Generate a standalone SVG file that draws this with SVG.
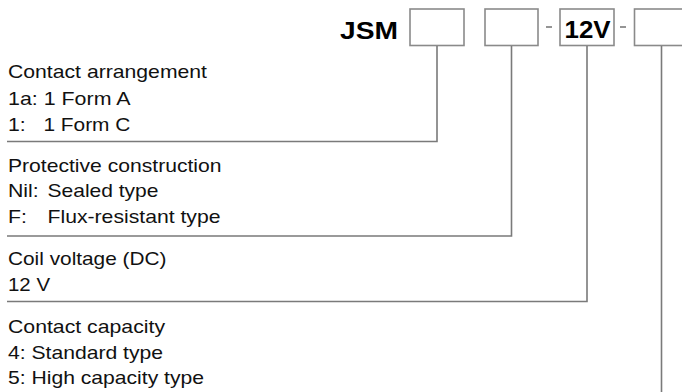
<svg xmlns="http://www.w3.org/2000/svg" width="682" height="392" viewBox="0 0 682 392">
<style>
.t{font-family:"Liberation Sans",Arial,Helvetica,sans-serif;font-size:18.5px;fill:#111}
.b{font-family:"Liberation Sans",Arial,Helvetica,sans-serif;font-size:24px;font-weight:bold;fill:#000}
.box{fill:#fff;stroke:#8a8a8a;stroke-width:1.6}
.ln{fill:none;stroke:#7a7a7a;stroke-width:1.6}
</style>
<rect width="682" height="392" fill="#fff"/>
<g id="title">
<text class="b" x="340" y="38.5" textLength="58" lengthAdjust="spacingAndGlyphs">JSM</text>
</g>
<g id="code">
<rect id="box1" class="box" x="410" y="9" width="54" height="36.5"/>
<rect id="box2" class="box" x="485" y="9" width="53" height="36.5"/>
<line class="ln" x1="546" y1="27" x2="552" y2="27"/>
<g id="box3">
<rect class="box" x="560" y="9" width="54" height="36.5"/>
<text class="b" x="564.5" y="38" textLength="46" lengthAdjust="spacingAndGlyphs">12V</text>
</g>
<line class="ln" x1="620" y1="27" x2="626" y2="27"/>
<rect id="box4" class="box" x="634.5" y="9" width="54" height="36.5"/>
</g>
<g id="connectors">
<path class="ln" d="M437,46 V141.5 H7"/>
<path class="ln" d="M511.5,46 V236 H7"/>
<path class="ln" d="M587,46 V301.5 H7"/>
<path class="ln" d="M661.5,46 V392"/>
</g>
<g id="contact-arrangement">
<text class="t" x="8" y="77.5" textLength="199" lengthAdjust="spacingAndGlyphs">Contact arrangement</text>
<text class="t" x="8" y="104.5" textLength="122.5" lengthAdjust="spacingAndGlyphs">1a: 1 Form A</text>
<text class="t" x="8" y="131" textLength="17.7" lengthAdjust="spacingAndGlyphs">1:</text>
<text class="t" x="43.4" y="131" textLength="87" lengthAdjust="spacingAndGlyphs">1 Form C</text>
</g>
<g id="protective-construction">
<text class="t" x="8" y="171.5" textLength="213.5" lengthAdjust="spacingAndGlyphs">Protective construction</text>
<text class="t" x="8" y="197" textLength="30.7" lengthAdjust="spacingAndGlyphs">Nil:</text>
<text class="t" x="47.5" y="197" textLength="111" lengthAdjust="spacingAndGlyphs">Sealed type</text>
<text class="t" x="8" y="223" textLength="18.9" lengthAdjust="spacingAndGlyphs">F:</text>
<text class="t" x="47.5" y="223" textLength="173" lengthAdjust="spacingAndGlyphs">Flux-resistant type</text>
</g>
<g id="coil-voltage">
<text class="t" x="8" y="265" textLength="158.5" lengthAdjust="spacingAndGlyphs">Coil voltage (DC)</text>
<text class="t" x="8" y="291" textLength="42" lengthAdjust="spacingAndGlyphs">12 V</text>
</g>
<g id="contact-capacity">
<text class="t" x="8" y="333" textLength="157" lengthAdjust="spacingAndGlyphs">Contact capacity</text>
<text class="t" x="8" y="358.5" textLength="155" lengthAdjust="spacingAndGlyphs">4: Standard type</text>
<text class="t" x="8" y="384" textLength="196" lengthAdjust="spacingAndGlyphs">5: High capacity type</text>
</g>
</svg>
